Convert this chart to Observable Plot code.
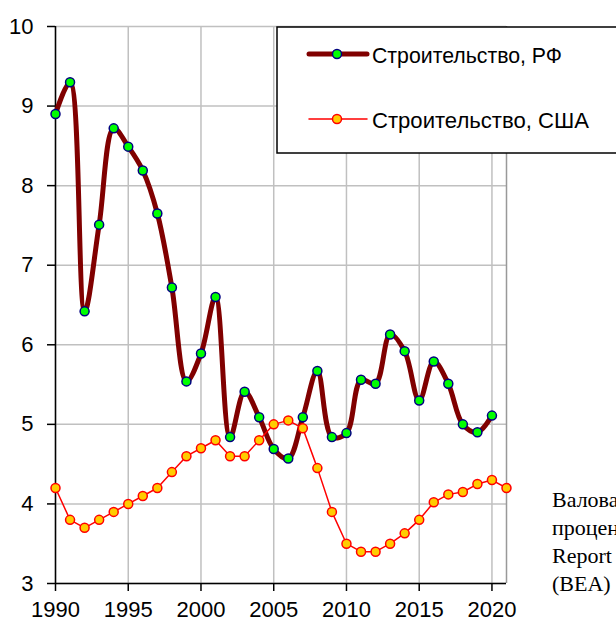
<!DOCTYPE html>
<html><head><meta charset="utf-8">
<script src="https://cdn.jsdelivr.net/npm/d3@7"></script>
<script src="https://cdn.jsdelivr.net/npm/@observablehq/plot@0.6"></script>
<style>body{margin:0;background:#fff;overflow:hidden}</style>
</head><body><div id="chart"></div>
<script>
const ruYears = [1990,1991,1992,1993,1994,1995,1996,1997,1998,1999,2000,2001,2002,2003,2004,2005,2006,2007,2008,2009,2010,2011,2012,2013,2014,2015,2016,2017,2018,2019,2020];
const ruValues = [8.9,9.3,6.42,7.51,8.72,8.49,8.19,7.65,6.72,5.54,5.89,6.6,4.84,5.41,5.09,4.69,4.57,5.09,5.67,4.84,4.89,5.56,5.51,6.13,5.92,5.3,5.79,5.51,5.0,4.9,5.11];
const usYears = [1990,1991,1992,1993,1994,1995,1996,1997,1998,1999,2000,2001,2002,2003,2004,2005,2006,2007,2008,2009,2010,2011,2012,2013,2014,2015,2016,2017,2018,2019,2020,2021];
const usValues = [4.2,3.8,3.7,3.8,3.9,4.0,4.1,4.2,4.4,4.6,4.7,4.8,4.6,4.6,4.8,5.0,5.05,4.95,4.45,3.9,3.5,3.4,3.4,3.5,3.63,3.8,4.02,4.12,4.15,4.25,4.3,4.2];
const xTicks = [1990,1995,2000,2005,2010,2015,2020];
const yTicks = [3,4,5,6,7,8,9,10];
const seriesNames = ["Строительство, РФ", "Строительство, США"];
const noteLines = ["Валовая добавленная стоимость в строительстве,", "процентах от ВВП. Источник: Annual", "Report of the Bureau of Economic Analysis", "(BEA)"];

const ru = ruYears.map((y,i)=>({year:y, value:ruValues[i]}));
const us = usYears.map((y,i)=>({year:y, value:usValues[i]}));

const grid = {stroke:"#c0c0c0", strokeOpacity:1, strokeWidth:1.5};
const chart = Plot.plot({
  width:616, height:621, marginLeft:55, marginRight:110, marginTop:26, marginBottom:38,
  style:{fontFamily:"'Liberation Sans', Arial, sans-serif", fontSize:"22px", background:"white", color:"black", overflow:"visible"},
  x:{domain:[1990,2021]},
  y:{domain:[3,10]},
  marks:[
    Plot.gridX(xTicks, grid),
    Plot.gridY(yTicks, grid),
    Plot.ruleX([2021], {stroke:"#999", strokeWidth:1.5}),
    Plot.axisX(xTicks, {tickFormat:"d", tickSize:8, tickPadding:10, label:null, stroke:"black", strokeWidth:1.5}),
    Plot.axisY(yTicks, {tickFormat:"d", tickSize:8, tickPadding:14, label:null, stroke:"black", strokeWidth:1.5}),
    Plot.ruleY([3], {stroke:"black", strokeWidth:1.5}),
    Plot.ruleX([1990], {stroke:"black", strokeWidth:1.5}),
    Plot.line(ru, {x:"year", y:"value", stroke:"#800000", strokeWidth:5, curve:"catmull-rom"}),
    Plot.dot(ru, {x:"year", y:"value", r:4.5, fill:"#00ff00", stroke:"#000080", strokeWidth:1.5}),
    Plot.line(us, {x:"year", y:"value", stroke:"#ff0000", strokeWidth:1.5}),
    Plot.dot(us, {x:"year", y:"value", r:4.5, fill:"#ffcc00", stroke:"#ff0000", strokeWidth:1.5})
  ]
});
document.getElementById("chart").appendChild(chart);

const svg = d3.select(chart);
const lg = svg.append("g");
lg.append("rect").attr("x",277).attr("y",27).attr("width",360).attr("height",126)
  .attr("fill","white").attr("stroke","black").attr("stroke-width",1.5);
const entries = [
  {name:seriesNames[0], y:55, len:190, stroke:"#800000", sw:5, fill:"#00ff00", ms:"#000080"},
  {name:seriesNames[1], y:120, len:217, stroke:"#ff0000", sw:1.5, fill:"#ffcc00", ms:"#ff0000"}
];
entries.forEach(e=>{
  lg.append("line").attr("x1",309).attr("x2",367).attr("y1",e.y-1).attr("y2",e.y-1)
    .attr("stroke",e.stroke).attr("stroke-width",e.sw).attr("stroke-linecap","round");
  lg.append("circle").attr("cx",337).attr("cy",e.y-1).attr("r",4.5)
    .attr("fill",e.fill).attr("stroke",e.ms).attr("stroke-width",1.5);
  lg.append("text").attr("x",372).attr("y",e.y).attr("dy","0.36em")
    .attr("text-anchor","start")
    .attr("font-family","'Liberation Sans', Arial, sans-serif").attr("font-size",22)
    .attr("textLength",e.len).attr("lengthAdjust","spacingAndGlyphs")
    .attr("fill","black").text(e.name);
});
const nt = svg.append("g");
noteLines.forEach((t,i)=>{
  nt.append("text").attr("x",552).attr("y",507+i*28).attr("text-anchor","start")
    .attr("font-family","'Liberation Serif', 'Times New Roman', serif").attr("font-size",22)
    .attr("fill","black").text(t);
});
</script></body></html>
